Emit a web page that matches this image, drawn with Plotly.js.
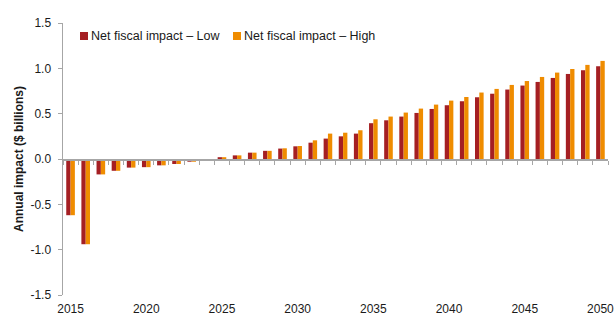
<!DOCTYPE html>
<html>
<head>
<meta charset="utf-8">
<script src="https://cdn.plot.ly/plotly-3.0.1.min.js"></script>
<style>
  html, body { margin: 0; padding: 0; background: #ffffff; }
  #chart { width: 614px; height: 316px; }
</style>
</head>
<body>
<div id="chart"></div>
<script>
const years = [2015,2016,2017,2018,2019,2020,2021,2022,2023,2024,2025,2026,2027,2028,2029,2030,2031,2032,2033,2034,2035,2036,2037,2038,2039,2040,2041,2042,2043,2044,2045,2046,2047,2048,2049,2050];
const lowValues = [-0.62,-0.94,-0.17,-0.13,-0.095,-0.09,-0.07,-0.055,-0.03,-0.005,0.02,0.04,0.07,0.09,0.115,0.14,0.18,0.225,0.25,0.28,0.395,0.427,0.468,0.508,0.552,0.593,0.637,0.681,0.72,0.766,0.81,0.85,0.894,0.938,0.979,1.023];
const highValues = [-0.62,-0.94,-0.17,-0.13,-0.095,-0.09,-0.07,-0.055,-0.03,-0.005,0.02,0.04,0.07,0.09,0.118,0.143,0.206,0.28,0.29,0.317,0.438,0.468,0.512,0.556,0.6,0.644,0.684,0.733,0.773,0.817,0.86,0.905,0.953,0.993,1.038,1.082];
const seriesNames = ["Net fiscal impact \u2013 Low", "Net fiscal impact \u2013 High"];
const yTickVals = [-1.5,-1.0,-0.5,0,0.5,1.0,1.5];
const yTickText = ["-1.5","-1.0","-0.5","0.0","0.5","1.0","1.5"];
const yTitle = "Annual impact ($ billions)";

const cats = years.map(String);
const xTickText = years.map(y => (y % 5 === 0 ? String(y) : ""));

const colLow = "#A51F23";
const colHigh = "#EF8C00";
const axisGray = "#A6A6A6";
const font = "Liberation Sans, Arial, sans-serif";

const traces = [
  { type: "bar", name: seriesNames[0], x: cats, y: lowValues, marker: { color: colLow } },
  { type: "bar", name: seriesNames[1], x: cats, y: highValues, marker: { color: colHigh } }
];

// manual legend (positions in pixels converted to paper coords)
const L = 63, R = 6, T = 23, B = 21, W = 614, H = 316;
const pw = W - L - R, ph = H - T - B;
const px = v => (v - L) / pw;
const py = v => 1 - (v - T) / ph;
const legendItems = [
  { x0: 80, x1: 88, tx: 89 },
  { x0: 233, x1: 241, tx: 242 }
];
const legendY = 36;
const shapes = legendItems.map((it, i) => ({
  type: "rect", xref: "paper", yref: "paper",
  x0: px(it.x0), x1: px(it.x1), y0: py(legendY + 4), y1: py(legendY - 4),
  fillcolor: i === 0 ? colLow : colHigh, line: { width: 0 }
}));
const annotations = legendItems.map((it, i) => ({
  xref: "paper", yref: "paper", x: px(it.tx), y: py(legendY),
  xanchor: "left", yanchor: "middle", showarrow: false,
  text: seriesNames[i], font: { family: font, size: 12.5, color: "#1a1a1a" }
}));

const layout = {
  width: W, height: H,
  margin: { l: L, r: R, t: T, b: B, pad: 0 },
  paper_bgcolor: "#ffffff", plot_bgcolor: "#ffffff",
  showlegend: false,
  barmode: "group", bargap: 0.43, bargroupgap: 0,
  font: { family: font, size: 12, color: "#1a1a1a" },
  xaxis: {
    type: "category", categoryorder: "array", categoryarray: cats,
    anchor: "free", position: 0.5,
    tickmode: "array", tickvals: cats, ticktext: xTickText,
    tickson: "boundaries", ticks: "outside", ticklen: 4, tickwidth: 1, tickcolor: axisGray,
    tickangle: 0,
    showline: true, linecolor: axisGray, linewidth: 1.5,
    showgrid: false, zeroline: false,
    ticklabelstandoff: 138,
    tickfont: { family: font, size: 12, color: "#1a1a1a" },
    fixedrange: true
  },
  yaxis: {
    range: [-1.5, 1.5],
    tickmode: "array", tickvals: yTickVals, ticktext: yTickText,
    ticks: "outside", ticklen: 4, tickwidth: 1, tickcolor: axisGray,
    showline: true, linecolor: axisGray, linewidth: 1.5,
    showgrid: false, zeroline: false,
    ticklabelstandoff: 4,
    tickfont: { family: font, size: 12, color: "#1a1a1a" },
    title: { text: "<b>" + yTitle + "</b>", font: { family: font, size: 12, color: "#1a1a1a" }, standoff: 4 },
    automargin: false,
    fixedrange: true
  },
  shapes: shapes,
  annotations: annotations
};

Plotly.newPlot("chart", traces, layout, { displayModeBar: false, staticPlot: true });
</script>
</body>
</html>
